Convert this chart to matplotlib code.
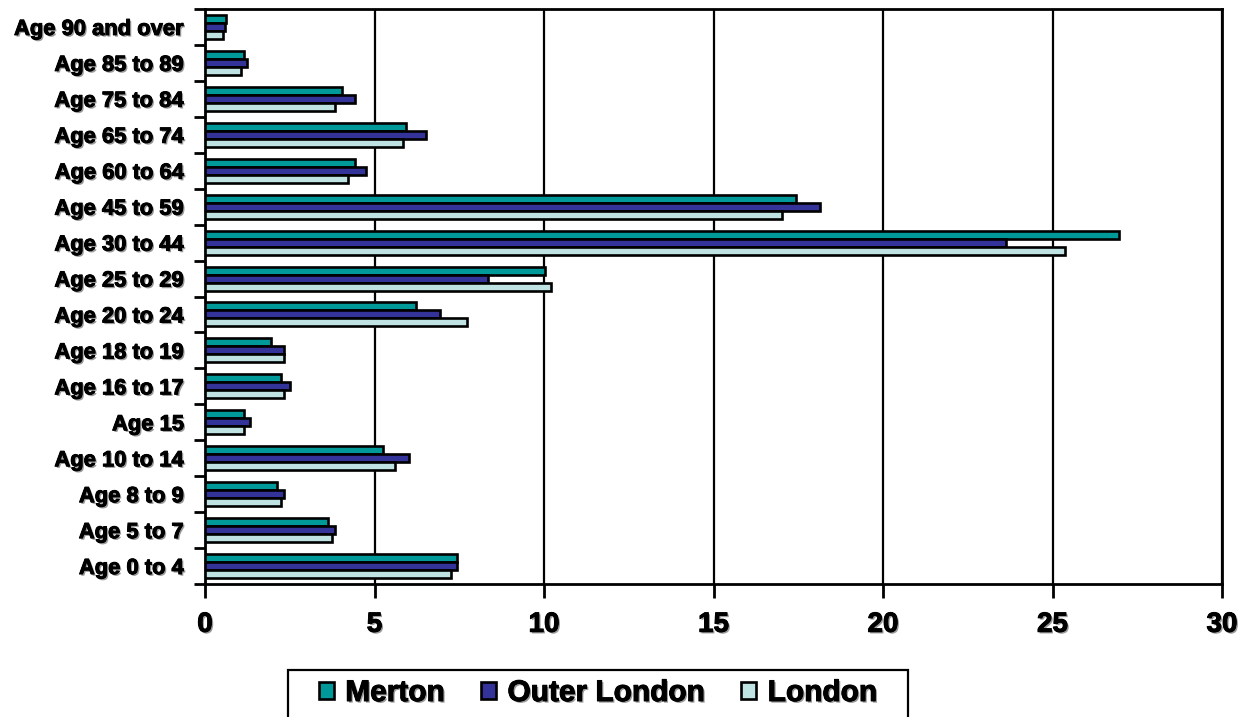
import matplotlib
matplotlib.use("Agg")
import matplotlib.pyplot as plt
import matplotlib.patheffects as pe
from matplotlib.patches import Rectangle
import numpy as np

categories = ["Age 0 to 4", "Age 5 to 7", "Age 8 to 9", "Age 10 to 14", "Age 15",
              "Age 16 to 17", "Age 18 to 19", "Age 20 to 24", "Age 25 to 29",
              "Age 30 to 44", "Age 45 to 59", "Age 60 to 64", "Age 65 to 74",
              "Age 75 to 84", "Age 85 to 89", "Age 90 and over"]
merton = [7.43, 3.63, 2.12, 5.25, 1.15, 2.24, 1.95, 6.22, 10.03, 26.95, 17.43, 4.42, 5.93, 4.04, 1.15, 0.62]
outer_london = [7.43, 3.83, 2.33, 6.02, 1.33, 2.5, 2.33, 6.93, 8.35, 23.62, 18.14, 4.75, 6.52, 4.42, 1.24, 0.6]
london = [7.26, 3.75, 2.24, 5.6, 1.15, 2.33, 2.33, 7.73, 10.2, 25.37, 17.02, 4.22, 5.84, 3.83, 1.06, 0.53]
series_names = ["Merton", "Outer London", "London"]
colors = ["#009999", "#333399", "#BFE3E3"]
xticks = [0, 5, 10, 15, 20, 25, 30]

plt.rcParams['font.family'] = ['Liberation Sans', 'DejaVu Sans']
plt.rcParams['font.weight'] = 'bold'

W, H = 1239, 717
fig = plt.figure(figsize=(W/100, H/100), dpi=100)
ax = fig.add_axes([205/W, 1-584/H, (1222-205)/W, (584-9)/H])

shadow = [pe.withSimplePatchShadow(offset=(1.2, -1.2), shadow_rgbFace='#9a9a9a', alpha=1.0),
          pe.withStroke(linewidth=0.7, foreground='black')]

y = np.arange(len(categories))
h = 0.223
bars = []
for i, (vals, name, col) in enumerate(zip([merton, outer_london, london], series_names, colors)):
    b = ax.barh(y + h * (1 - i), vals, height=h, color=col, edgecolor='black',
                linewidth=1.9, label=name, zorder=3)
    bars.append(b)

ax.set_xlim(0, 30)
ax.set_ylim(-0.5, len(categories) - 0.5)
ax.set_xticks(xticks)
ax.set_xticklabels([str(t) for t in xticks], fontsize=20, fontweight='bold')
for t in ax.get_xticklabels():
    t.set_path_effects(shadow)
ax.set_yticks(y)
ax.set_yticklabels(categories, fontsize=15.8, fontweight='bold')
for t in ax.get_yticklabels():
    t.set_path_effects(shadow)
ax.set_yticks(np.arange(-0.5, len(categories), 1.0), minor=True)
ax.tick_params(axis='y', which='major', length=0, pad=15)
ax.tick_params(axis='y', which='minor', length=8, width=2, direction='out')
ax.tick_params(axis='x', which='major', length=10, width=2, direction='out', pad=10)

ax.xaxis.grid(True, color='black', linewidth=1.6, zorder=0)
ax.set_axisbelow(True)
for s in ax.spines.values():
    s.set_linewidth(2)
    s.set_color('black')

# legend frame
fig.patches.append(Rectangle((288/W, 1-740/H), 620/W, (740-670)/H, transform=fig.transFigure,
                             facecolor='white', edgecolor='black', linewidth=1.6, zorder=1))
leg = fig.legend(handles=bars, labels=series_names, loc='center left',
                 bbox_to_anchor=(319/W, 1-693/H), ncol=3,
                 frameon=False, borderpad=0, borderaxespad=0,
                 handlelength=0.5, handleheight=0.5, handletextpad=0.38,
                 columnspacing=1.22, prop={'weight': 'bold', 'size': 21.5})
for t in leg.get_texts():
    t.set_path_effects(shadow)

fig.savefig("out.png", dpi=100)
